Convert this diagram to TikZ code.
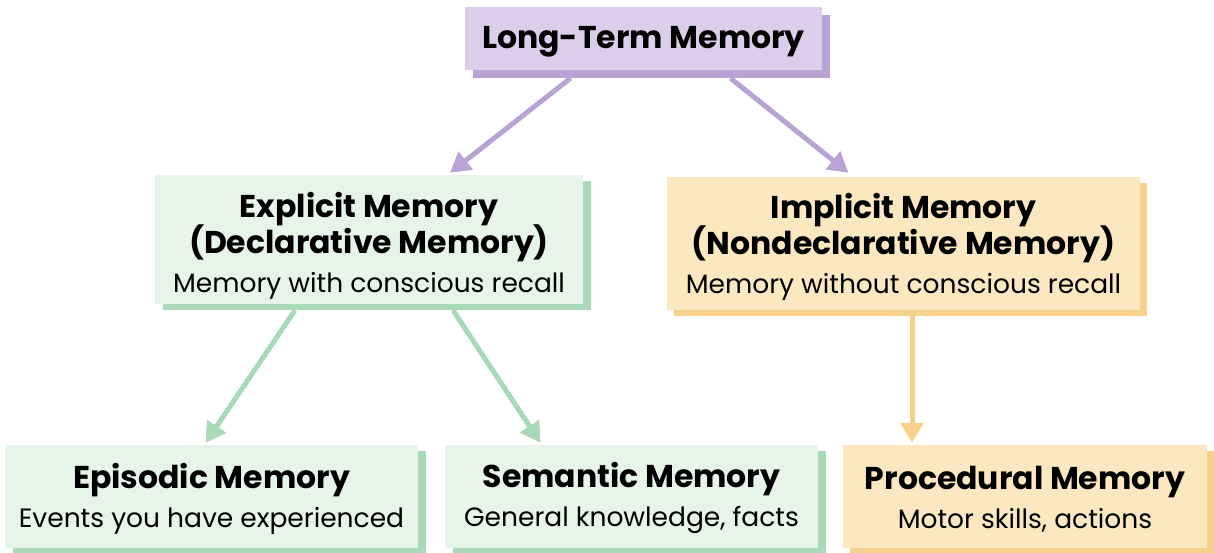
\documentclass[tikz,border=0pt]{standalone}
\usepackage{fontspec}
\setmainfont{Poppins}
\usetikzlibrary{positioning,arrows.meta,shadows}

\definecolor{ltmfill}{HTML}{DCCDEA}
\definecolor{ltmshade}{HTML}{B9A2D4}
\definecolor{expfill}{HTML}{E6F4EA}
\definecolor{expshade}{HTML}{A9D9B8}
\definecolor{impfill}{HTML}{FCE8C0}
\definecolor{impshade}{HTML}{F6D18C}

\newcommand{\hd}[1]{{\fontsize{31.5}{36}\selectfont\bfseries #1}}
\newcommand{\sub}[1]{{\fontsize{26.5}{36}\selectfont #1}}
\newcommand{\boxfont}{\fontsize{30}{36}\selectfont\lineskiplimit=-30pt\relax}
\newcommand{\tstrut}[1]{\rule{0pt}{#1}}

\begin{document}
\begin{tikzpicture}[
  x=1pt, y=-1pt,
  box/.style={inner sep=0pt, align=center, text=black, font=\boxfont},
  ltmbox/.style={box, fill=ltmfill,
    drop shadow={shadow xshift=8pt, shadow yshift=-8pt, fill=ltmshade, opacity=1}},
  expbox/.style={box, fill=expfill,
    drop shadow={shadow xshift=8pt, shadow yshift=-6pt, fill=expshade, opacity=1}},
  impbox/.style={box, fill=impfill,
    drop shadow={shadow xshift=7pt, shadow yshift=-6pt, fill=impshade, opacity=1}},
  arr/.style={-{Triangle[length=20pt, width=22pt]}, line width=5pt},
]
\useasboundingbox (0,0) rectangle (1214,552);
% ----- top -----
\node[ltmbox, minimum width=357pt, minimum height=63pt] (ltm) at (643.5,38.5)
  {\hd{\tstrut{29pt}Long-Term Memory}};
% ----- middle row -----
\node[expbox, minimum width=428pt, minimum height=129pt] (exp) at (369,239.5)
  {\hd{\tstrut{38pt}Explicit Memory}\\\hd{(Declarative Memory)}\\[3pt]\sub{Memory with conscious recall}};
\node[impbox, minimum width=473pt, minimum height=133pt] (imp) at (903.5,243.5)
  {\hd{\tstrut{31pt}Implicit Memory}\\\hd{(Nondeclarative Memory)}\\[3pt]\sub{Memory without conscious recall}};
% ----- bottom row -----
\node[expbox, minimum width=413pt, minimum height=103pt] (epi) at (211.5,496.5)
  {\hd{\tstrut{29pt}Episodic Memory}\\[3pt]\sub{Events you have experienced}};
\node[expbox, minimum width=373pt, minimum height=103pt] (sem) at (631.5,496.5)
  {\hd{\tstrut{29pt}Semantic Memory}\\[3pt]\sub{General knowledge, facts}};
\node[impbox, minimum width=364pt, minimum height=103pt] (proc) at (1025,496.5)
  {\hd{\tstrut{29pt}Procedural Memory}\\[3pt]\sub{Motor skills, actions}};
% ----- connectors -----
\draw[arr, ltmshade] ([xshift=-73pt, yshift=-8pt]ltm.south) -- ([xshift=81pt, yshift=2pt]exp.north);
\draw[arr, ltmshade] ([xshift=87pt, yshift=-8pt]ltm.south) -- ([xshift=-55pt, yshift=4pt]imp.north);
\draw[arr, expshade] ([xshift=-74pt, yshift=-6pt]exp.south) -- ([xshift=-6pt, yshift=2pt]epi.north);
\draw[arr, expshade] ([xshift=84pt, yshift=-6pt]exp.south) -- ([xshift=-91pt, yshift=2pt]sem.north);
\draw[arr, impshade] ([xshift=8.5pt, yshift=-6pt]imp.south) -- ([xshift=-113pt, yshift=2pt]proc.north);
\end{tikzpicture}
\end{document}
